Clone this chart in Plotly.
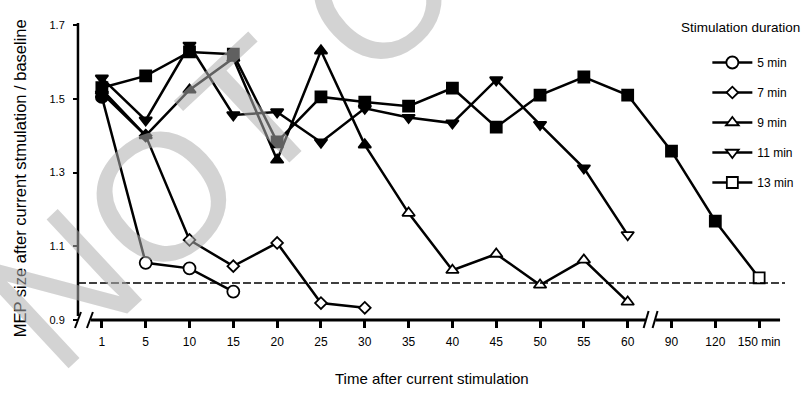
import plotly.graph_objects as go

# ---------------- data ----------------
time_points = [1, 5, 10, 15, 20, 25, 30, 35, 40, 45, 50, 55, 60, 90, 120, 150]
time_labels = ["1", "5", "10", "15", "20", "25", "30", "35", "40", "45", "50",
               "55", "60", "90", "120", "150 min"]

series_names = ["5 min", "7 min", "9 min", "11 min", "13 min"]

t_5 = [1, 5, 10, 15]
mep_5 = [1.505, 1.055, 1.040, 0.977]
sig_5 = [True, False, False, False]

t_7 = [1, 5, 10, 15, 20, 25, 30]
mep_7 = [1.515, 1.400, 1.117, 1.046, 1.109, 0.946, 0.933]
sig_7 = [True, True, False, False, False, False, False]

t_9 = [1, 5, 10, 15, 20, 25, 30, 35, 40, 45, 50, 55, 60]
mep_9 = [1.525, 1.400, 1.524, 1.610, 1.334, 1.630, 1.375, 1.190, 1.035, 1.079,
         0.995, 1.063, 0.949]
sig_9 = [True, True, True, True, True, True, True, False, False, False, False,
         False, False]

t_11 = [1, 5, 10, 15, 20, 25, 30, 35, 40, 45, 50, 55, 60]
mep_11 = [1.556, 1.442, 1.645, 1.456, 1.464, 1.382, 1.474, 1.449, 1.434, 1.551,
          1.430, 1.312, 1.131]
sig_11 = [True, True, True, True, True, True, True, True, True, True, True,
          True, False]

t_13 = [1, 5, 10, 15, 20, 25, 30, 35, 40, 45, 50, 55, 60, 90, 120, 150]
mep_13 = [1.530, 1.562, 1.627, 1.621, 1.383, 1.505, 1.491, 1.480, 1.529, 1.423,
          1.510, 1.559, 1.510, 1.358, 1.168, 1.014]
sig_13 = [True, True, True, True, True, True, True, True, True, True, True,
          True, True, True, True, False]

baseline = 1.0
y_ticks = [0.9, 1.1, 1.3, 1.5, 1.7]

# ---------------- geometry ----------------
W, H = 811, 415
L_PX, R_PX, T_PX, B_PX = 70, 795, 18, 331
X0_PX, X_STEP = 102, 44.0          # pixel of first category, pixels per category
Y_LO_PX, Y_HI_PX = 320, 25         # pixels of 0.9 and 1.7
KY = (Y_LO_PX - Y_HI_PX) / (y_ticks[-1] - y_ticks[0])


def px_x(px):
    return (px - X0_PX) / X_STEP


def px_y(py):
    return y_ticks[0] + (Y_LO_PX - py) / KY


def paper_x(px):
    return (px - L_PX) / (R_PX - L_PX)


def paper_y(py):
    return (B_PX - py) / (B_PX - T_PX)


idx = {t: i for i, t in enumerate(time_points)}

FONT_R = "Liberation Sans, Arial, Helvetica, sans-serif"

series = [
    (t_5, mep_5, sig_5, "circle", 12),
    (t_7, mep_7, sig_7, "diamond", 9),
    (t_9, mep_9, sig_9, "triangle-up", 11),
    (t_11, mep_11, sig_11, "triangle-down", 11),
    (t_13, mep_13, sig_13, "square", 11),
]

fig = go.Figure()

# draw order: squares at the bottom
for k in [4, 3, 2, 1, 0]:
    tt, vv, ss, sym, size = series[k]
    fig.add_trace(go.Scatter(
        x=[idx[t] for t in tt], y=vv, mode="lines+markers",
        line=dict(color="black", width=2.5),
        marker=dict(symbol=sym, size=size,
                    color=["black" if s else "white" for s in ss],
                    line=dict(color="black", width=1.8)),
        showlegend=False, hoverinfo="skip"))

# legend entries (open symbols)
for k, name in enumerate(series_names):
    _, _, _, sym, size = series[k]
    fig.add_trace(go.Scatter(
        x=[None], y=[None], mode="lines+markers", name=name,
        legendgroup=name,
        line=dict(color="black", width=2.5),
        marker=dict(symbol=sym, size=size, color="white",
                    line=dict(color="black", width=1.8))))

shapes = []
# baseline dashed
shapes.append(dict(type="line", xref="x", yref="y",
                   x0=px_x(78), x1=px_x(788), y0=baseline, y1=baseline,
                   line=dict(color="black", width=1.5, dash="8px,3px")))
# y axis line
shapes.append(dict(type="line", xref="x", yref="y",
                   x0=px_x(78), x1=px_x(78), y0=px_y(23), y1=px_y(316),
                   line=dict(color="black", width=2.5)))
# x axis line (two parts)
shapes.append(dict(type="line", xref="x", yref="y",
                   x0=px_x(91), x1=px_x(648), y0=y_ticks[0], y1=y_ticks[0],
                   line=dict(color="black", width=3)))
shapes.append(dict(type="line", xref="x", yref="y",
                   x0=px_x(658), x1=px_x(783), y0=y_ticks[0], y1=y_ticks[0],
                   line=dict(color="black", width=3)))
# break marks
for (xa, ya, xb, yb) in [(75, 328, 81, 312), (87, 328, 93, 312),
                         (646, 328, 651, 311), (655, 328, 660, 311)]:
    shapes.append(dict(type="line", xref="x", yref="y",
                       x0=px_x(xa), y0=px_y(ya), x1=px_x(xb), y1=px_y(yb),
                       line=dict(color="black", width=2)))

annotations = [
    dict(text="MEP size after current stmulation / baseline",
         xref="paper", yref="paper", x=paper_x(20), y=paper_y(178),
         textangle=-90, showarrow=False, xanchor="center", yanchor="middle",
         font=dict(family=FONT_R, size=16.5, color="black")),
    dict(text="Time after current stimulation",
         xref="paper", yref="paper", x=paper_x(434), y=paper_y(378),
         showarrow=False, xanchor="center", yanchor="middle",
         font=dict(family=FONT_R, size=15, color="black")),
    dict(text="Stimulation duration",
         xref="paper", yref="paper", x=paper_x(743), y=paper_y(28),
         showarrow=False, xanchor="center", yanchor="middle",
         font=dict(family=FONT_R, size=13.5, color="black")),
    dict(text="DO NOT COPY",
         xref="paper", yref="paper", x=paper_x(241), y=paper_y(122),
         textangle=-43, showarrow=False, xanchor="center", yanchor="middle",
         font=dict(family=FONT_R, size=180, color="rgba(174,174,174,0.55)")),
]

fig.update_layout(
    width=W, height=H,
    margin=dict(l=L_PX, r=W - R_PX, t=T_PX, b=H - B_PX, pad=0),
    paper_bgcolor="white", plot_bgcolor="white",
    shapes=shapes, annotations=annotations,
    legend=dict(x=paper_x(710), y=paper_y(48), xanchor="left", yanchor="top",
                traceorder="grouped", tracegroupgap=11, itemwidth=40,
                bgcolor="rgba(0,0,0,0)", borderwidth=0,
                font=dict(family=FONT_R, size=12, color="black")),
    xaxis=dict(range=[px_x(L_PX), px_x(R_PX)], tickvals=list(range(len(time_labels))),
               ticktext=time_labels, ticks="outside", ticklen=7, tickwidth=2.5,
               tickcolor="black", showline=False, showgrid=False, zeroline=False,
               anchor="free", position=paper_y(Y_LO_PX), ticklabelstandoff=4,
               tickfont=dict(family=FONT_R, size=12, color="black")),
    yaxis=dict(range=[px_y(B_PX), px_y(T_PX)], tickvals=y_ticks,
               ticktext=["%.1f" % v for v in y_ticks], ticks="outside", ticklen=5,
               tickwidth=2, tickcolor="black", showline=False, showgrid=False,
               zeroline=False, anchor="free", position=paper_x(78),
               ticklabelstandoff=6,
               tickfont=dict(family=FONT_R, size=11, color="black")),
)

fig.write_html("out.html", config={"displayModeBar": False},
               post_script="document.body.style.margin='0px';")
